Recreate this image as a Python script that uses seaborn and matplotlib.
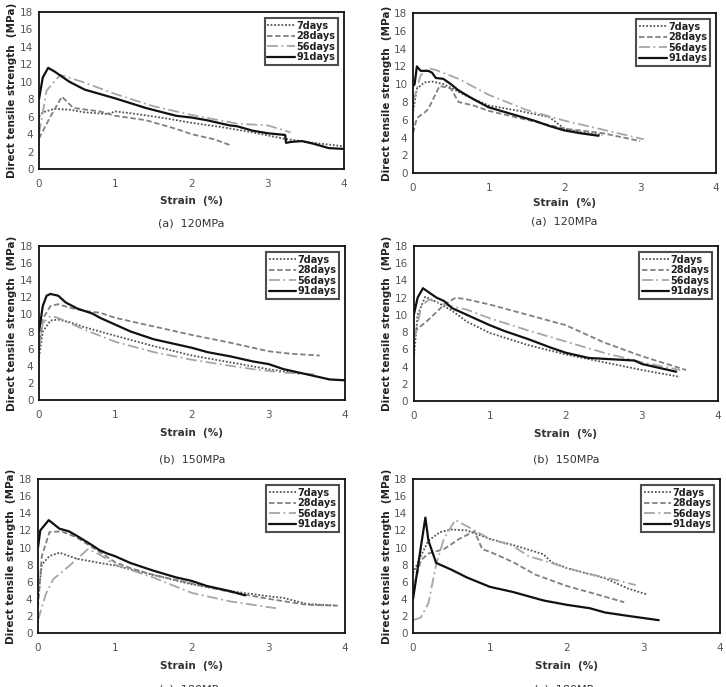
import numpy as np
import pandas as pd
import matplotlib
matplotlib.use("Agg")
import matplotlib.pyplot as plt
import seaborn as sns

sns.set_theme(style="white")
plt.rcParams['font.family'] = ['DejaVu Sans']

series_names = ["7days", "28days", "56days", "91days"]

# Panel (a) left
a1_7_x = [0, 0.05, 0.2, 0.4, 0.6, 0.9, 1.0, 1.2, 1.6, 2.0, 2.4, 2.8, 3.2, 3.6, 4.0]
a1_7_y = [6.0, 6.5, 6.9, 6.8, 6.5, 6.3, 6.6, 6.4, 5.9, 5.3, 4.8, 4.2, 3.5, 3.0, 2.6]
a1_28_x = [0, 0.15, 0.3, 0.45, 0.8, 1.0, 1.4, 1.8, 2.0, 2.3, 2.52]
a1_28_y = [3.5, 6.0, 8.3, 7.0, 6.6, 6.1, 5.6, 4.6, 4.0, 3.4, 2.7]
a1_56_x = [0, 0.1, 0.28, 0.6, 1.0, 1.5, 2.0, 2.6, 3.0, 3.3]
a1_56_y = [4.0, 9.0, 10.8, 9.9, 8.6, 7.2, 6.2, 5.2, 5.0, 4.2]
a1_91_x = [0, 0.05, 0.12, 0.2, 0.4, 0.6, 1.0, 1.4, 1.8, 2.0, 2.2, 2.5, 2.6, 2.8, 3.0, 3.23, 3.24, 3.3, 3.45, 3.6, 3.8, 4.0]
a1_91_y = [8.0, 10.5, 11.6, 11.2, 10.0, 9.1, 8.1, 7.0, 6.1, 5.9, 5.6, 5.0, 4.9, 4.4, 4.1, 3.9, 3.0, 3.1, 3.2, 2.9, 2.4, 2.3]

# Panel (a) right
a2_7_x = [0, 0.05, 0.15, 0.25, 0.4, 0.5, 0.7, 1.0, 1.4, 1.8, 2.0, 2.2, 2.5]
a2_7_y = [7.0, 9.5, 10.2, 10.3, 10.0, 9.6, 8.7, 7.6, 7.0, 6.3, 5.0, 4.6, 4.3]
a2_28_x = [0, 0.05, 0.15, 0.2, 0.35, 0.5, 0.6, 0.8, 1.0, 1.5, 2.0, 2.5, 3.0]
a2_28_y = [4.5, 6.2, 6.8, 7.2, 9.8, 9.5, 8.0, 7.6, 7.0, 6.0, 5.0, 4.5, 3.6]
a2_56_x = [0, 0.1, 0.2, 0.3, 0.6, 1.0, 1.5, 2.0, 2.5, 3.05]
a2_56_y = [8.0, 11.0, 11.8, 11.6, 10.6, 8.8, 7.1, 5.9, 4.9, 3.8]
a2_91_x = [0, 0.02, 0.05, 0.1, 0.2, 0.25, 0.3, 0.4, 0.5, 0.6, 0.8, 1.0, 1.2, 1.4, 1.6, 1.8, 2.0, 2.2, 2.45]
a2_91_y = [9.8, 10.0, 12.0, 11.5, 11.5, 11.3, 10.7, 10.6, 10.0, 9.3, 8.3, 7.4, 6.9, 6.4, 5.9, 5.3, 4.8, 4.5, 4.2]

# Panel (b) left
b1_7_x = [0, 0.05, 0.15, 0.25, 0.4, 0.6, 1.0, 1.5, 2.0, 2.5, 3.0, 3.4]
b1_7_y = [5.0, 8.0, 9.3, 9.4, 9.1, 8.5, 7.5, 6.3, 5.2, 4.4, 3.6, 3.1]
b1_28_x = [0, 0.05, 0.15, 0.25, 0.4, 0.6, 0.8, 1.0, 1.5, 2.0, 2.5, 3.0, 3.3, 3.67]
b1_28_y = [6.0, 9.5, 11.0, 11.2, 10.8, 10.4, 10.2, 9.6, 8.6, 7.6, 6.7, 5.7, 5.4, 5.2]
b1_56_x = [0, 0.05, 0.15, 0.25, 0.4, 0.6, 1.0, 1.5, 2.0, 2.5, 2.8, 3.2, 3.6]
b1_56_y = [6.0, 9.0, 9.8, 9.6, 9.0, 8.2, 6.8, 5.6, 4.7, 4.0, 3.6, 3.2, 3.0]
b1_91_x = [0, 0.05, 0.1, 0.15, 0.25, 0.35, 0.5, 0.7, 0.8, 1.0, 1.2, 1.5, 1.8, 2.0, 2.2, 2.5, 2.8, 3.0, 3.2, 3.5, 3.8, 4.0]
b1_91_y = [8.0, 11.0, 12.2, 12.4, 12.2, 11.4, 10.7, 10.1, 9.6, 8.8, 8.0, 7.1, 6.5, 6.1, 5.6, 5.1, 4.5, 4.2, 3.6, 3.0, 2.4, 2.3]

# Panel (b) right
b2_7_x = [0, 0.05, 0.15, 0.3, 0.5, 0.7, 1.0, 1.5, 2.0, 2.5, 3.0, 3.5]
b2_7_y = [5.0, 10.0, 12.1, 11.5, 10.5, 9.2, 7.9, 6.5, 5.4, 4.5, 3.6, 2.8]
b2_28_x = [0, 0.2, 0.4, 0.55, 0.7, 1.0, 1.5, 2.0, 2.5, 3.0, 3.58]
b2_28_y = [8.0, 9.5, 11.2, 12.0, 11.8, 11.2, 10.0, 8.8, 6.8, 5.2, 3.6]
b2_56_x = [0, 0.1, 0.2, 0.4, 0.7, 1.0, 1.5, 2.0, 2.5, 3.0, 3.5]
b2_56_y = [7.0, 11.0, 11.8, 11.2, 10.6, 9.6, 8.2, 6.9, 5.6, 4.5, 3.6]
b2_91_x = [0, 0.05, 0.12, 0.2, 0.3, 0.4, 0.5, 0.7, 1.0, 1.2, 1.5, 1.8, 2.0, 2.3, 2.5, 2.9, 3.0, 3.2, 3.45]
b2_91_y = [10.0, 12.0, 13.1, 12.6, 12.0, 11.6, 10.8, 10.0, 8.8, 8.1, 7.2, 6.2, 5.6, 5.0, 4.9, 4.7, 4.3, 3.9, 3.4]

# Panel (c) left
c1_7_x = [0, 0.05, 0.15, 0.28, 0.5, 0.8, 1.0, 1.5, 2.0, 2.5, 3.0, 3.2, 3.5, 3.9]
c1_7_y = [4.0, 8.0, 9.0, 9.4, 8.7, 8.2, 7.9, 6.8, 5.7, 4.9, 4.3, 4.1, 3.4, 3.2]
c1_28_x = [0, 0.05, 0.15, 0.3, 0.5, 0.8, 1.0, 1.2, 1.5, 2.0, 2.5, 3.0, 3.5, 3.9]
c1_28_y = [3.0, 9.0, 11.8, 11.9, 11.2, 9.5, 8.3, 7.6, 6.8, 5.8, 4.8, 4.0, 3.3, 3.2]
c1_56_x = [0, 0.1, 0.2, 0.4, 0.65, 0.8, 1.0, 1.5, 2.0, 2.5, 3.1]
c1_56_y = [1.5, 4.5, 6.3, 7.8, 9.8, 9.2, 8.0, 6.5, 4.7, 3.7, 2.9]
c1_91_x = [0, 0.03, 0.14, 0.28, 0.4, 0.5, 0.7, 0.8, 0.9, 1.0, 1.2, 1.5, 1.8, 2.0, 2.2, 2.5, 2.7]
c1_91_y = [10.0, 12.0, 13.2, 12.2, 11.9, 11.4, 10.3, 9.7, 9.3, 9.0, 8.2, 7.3, 6.5, 6.1, 5.5, 4.9, 4.4]

# Panel (c) right
c2_7_x = [0, 0.1, 0.2, 0.35, 0.5, 0.7, 0.85, 1.0, 1.3, 1.7, 1.8, 2.0, 2.5, 2.8, 3.05]
c2_7_y = [7.0, 9.0, 10.8, 11.8, 12.1, 12.0, 11.5, 11.0, 10.3, 9.2, 8.3, 7.6, 6.4, 5.2, 4.5]
c2_28_x = [0, 0.1, 0.2, 0.4, 0.6, 0.8, 0.9, 1.0, 1.3, 1.6, 2.0, 2.4, 2.75]
c2_28_y = [5.0, 8.5, 9.3, 9.8, 11.0, 11.9, 9.8, 9.5, 8.3, 6.8, 5.5, 4.5, 3.6]
c2_56_x = [0, 0.1, 0.2, 0.3, 0.4, 0.5, 0.55, 0.7, 0.8, 1.0, 1.3, 1.5, 1.8, 2.0, 2.3, 2.6, 2.9]
c2_56_y = [1.5, 1.8, 3.5, 8.0, 11.0, 12.5, 13.2, 12.5, 12.0, 11.0, 10.2, 9.0, 8.2, 7.6, 6.9, 6.3, 5.6]
c2_91_x = [0, 0.05, 0.1, 0.16, 0.2, 0.3, 0.5, 0.7, 1.0, 1.3, 1.7, 2.0, 2.3, 2.5, 2.8, 3.2]
c2_91_y = [4.0, 7.0, 10.0, 13.5, 10.8, 8.2, 7.4, 6.5, 5.4, 4.8, 3.8, 3.3, 2.9, 2.4, 2.0, 1.5]

panels = [
    [(a1_7_x, a1_7_y), (a1_28_x, a1_28_y), (a1_56_x, a1_56_y), (a1_91_x, a1_91_y)],
    [(a2_7_x, a2_7_y), (a2_28_x, a2_28_y), (a2_56_x, a2_56_y), (a2_91_x, a2_91_y)],
    [(b1_7_x, b1_7_y), (b1_28_x, b1_28_y), (b1_56_x, b1_56_y), (b1_91_x, b1_91_y)],
    [(b2_7_x, b2_7_y), (b2_28_x, b2_28_y), (b2_56_x, b2_56_y), (b2_91_x, b2_91_y)],
    [(c1_7_x, c1_7_y), (c1_28_x, c1_28_y), (c1_56_x, c1_56_y), (c1_91_x, c1_91_y)],
    [(c2_7_x, c2_7_y), (c2_28_x, c2_28_y), (c2_56_x, c2_56_y), (c2_91_x, c2_91_y)],
]
captions = ["(a)  120MPa", "(a)  120MPa", "(b)  150MPa", "(b)  150MPa", "(c)  180MPa", "(c)  180MPa"]
x_ticks = [0, 1, 2, 3, 4]
y_ticks = [0, 2, 4, 6, 8, 10, 12, 14, 16, 18]

styles = [
    dict(color="#555555", linestyle=(0, (1, 1)), linewidth=1.3),
    dict(color="#808080", linestyle=(0, (3, 1.5)), linewidth=1.3),
    dict(color="#a6a6a6", linestyle=(0, (6, 2, 1, 2)), linewidth=1.3),
    dict(color="#111111", linestyle="-", linewidth=1.6),
]

fig = plt.figure(figsize=(7.26, 6.87), dpi=100)
rects = [
    (0.0537, 0.754, 0.420, 0.2285),
    (0.569, 0.748, 0.417, 0.233),
    (0.0537, 0.4178, 0.4215, 0.224),
    (0.570, 0.4163, 0.419, 0.2256),
    (0.0523, 0.0786, 0.423, 0.224),
    (0.569, 0.0786, 0.423, 0.224),
]
cap_y = [1 - 223/687, 1 - 221/687, 1 - 459/687, 1 - 459/687, 1 - 690/687, 1 - 690/687]
xlab_pad = [5, 4, 6, 6, 6, 6]

for i, (rect, data) in enumerate(zip(rects, panels)):
    ax = fig.add_axes(rect)
    for name, (xs, ys), st in zip(series_names, data, styles):
        df = pd.DataFrame({"x": xs, "y": ys})
        sns.lineplot(data=df, x="x", y="y", ax=ax, estimator=None, sort=False,
                     label=name, **st)
    ax.set_xlim(0, 4)
    ax.set_ylim(0, 18)
    ax.set_xticks(x_ticks)
    ax.set_yticks(y_ticks)
    ax.tick_params(axis="both", labelsize=7.5, labelcolor="#555555", direction="in",
                   length=3, width=1, color="#222222")
    ax.tick_params(axis="x", pad=7)
    ax.tick_params(axis="y", pad=4)
    for sp in ax.spines.values():
        sp.set_color("#111111")
        sp.set_linewidth(1.3)
    ax.set_xlabel("Strain  (%)", fontsize=7.5, fontweight="bold", color="#333333", labelpad=xlab_pad[i])
    ax.set_ylabel("Direct tensile strength  (MPa)", fontsize=7.5, fontweight="bold",
                  color="#222222", labelpad=2)
    leg = ax.legend(loc="upper right", fontsize=7, frameon=True, fancybox=False,
                    handlelength=2.8, handletextpad=0.15, borderpad=0.3, labelspacing=0.05,
                    borderaxespad=0.6)
    leg.get_frame().set_edgecolor("#222222")
    leg.get_frame().set_linewidth(1.5)
    for t in leg.get_texts():
        t.set_fontweight("bold")
        t.set_color("#222222")
    fig.text(rect[0] + rect[2] / 2, cap_y[i], captions[i], ha="center", va="center",
             fontsize=8, color="#333333")

fig.savefig("out.png", dpi=100, facecolor="white")
